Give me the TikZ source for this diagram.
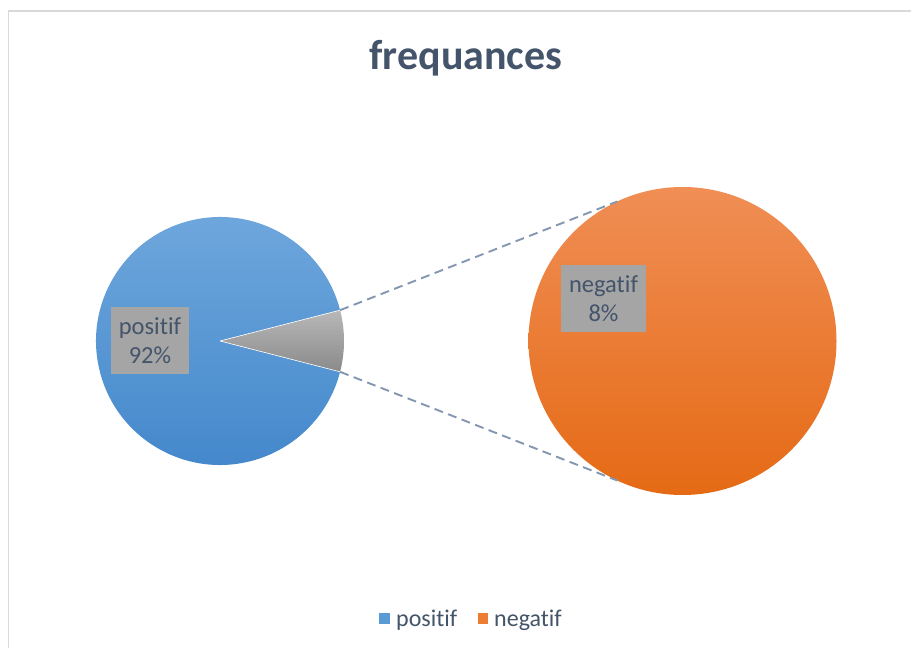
\documentclass[tikz,border=0pt]{standalone}
\usepackage{fontspec}
\setmainfont{Carlito}[Ligatures=NoCommon]
\usetikzlibrary{calc}
\definecolor{txt}{HTML}{44546A}
\definecolor{lbl}{HTML}{A5A5A5}
\definecolor{dashc}{HTML}{8497B0}
\definecolor{frame}{HTML}{D9D9D9}
\definecolor{bluetop}{HTML}{70A8DD}
\definecolor{bluebot}{HTML}{4287CB}
\definecolor{ortop}{HTML}{F08E55}
\definecolor{orbot}{HTML}{E56A15}
\definecolor{greytop}{HTML}{B8B8B8}
\definecolor{greybot}{HTML}{8A8A8A}
\definecolor{legblue}{HTML}{5B9BD5}
\definecolor{legor}{HTML}{ED7D31}
\tikzset{
  datalabel/.style={fill=lbl, text=txt, align=center, inner sep=0pt, font=\fontsize{24.5}{29}\selectfont},
  connector/.style={draw=dashc, line width=1.9pt, dash pattern=on 9pt off 5.5pt},
  legendtext/.style={text=txt, anchor=base west, inner sep=0pt, font=\fontsize{24}{28}\selectfont},
  legendbox/.style={minimum size=10.5pt, inner sep=0pt},
}
\begin{document}
\begin{tikzpicture}[x=1pt,y=1pt]
\useasboundingbox (0,0) rectangle (911,648);
\fill[white] (0,0) rectangle (911,648);
% frame
\draw[frame, line width=1.2pt] (8.5,0) -- (8.5,637) -- (911,637);
% title
\node[text=txt, anchor=base, inner sep=0pt, font=\fontsize{42}{48}\selectfont\bfseries] (title) at (466,578) {frequances};
% left pie
\coordinate (lc) at (220,307);
\shade[top color=bluetop, bottom color=bluebot] (lc) -- ++(14.4:124) arc[start angle=14.4, end angle=345.6, radius=124] -- cycle;
\shade[top color=greytop, bottom color=greybot] (lc) -- ++(-14.4:124) arc[start angle=-14.4, end angle=14.4, radius=124] -- cycle;
\draw[white, line width=0.6pt] (lc) -- ++(14.4:124) (lc) -- ++(-14.4:124);
% right pie
\coordinate (rc) at (682.5,307);
\shade[top color=ortop, bottom color=orbot] (rc) circle[radius=154];
\coordinate (rtop) at ($(rc)+(115:154)$);
\coordinate (rbot) at ($(rc)+(-115:154)$);
\coordinate (wtop) at ($(lc)+(14.4:124)$);
\coordinate (wbot) at ($(lc)+(-14.4:124)$);
\draw[connector] (wtop) -- (rtop);
\draw[connector] (wbot) -- (rbot);
% data labels
\node[datalabel, minimum width=78pt, minimum height=67pt] (lpos) at (150,307.5) {positif\\92\%};
\node[datalabel, minimum width=85pt, minimum height=67pt] (lneg) at (603.5,349.5) {negatif\\8\%};
% legend
\node[legendbox, fill=legblue] (kpos) at (384.5,29.5) {};
\node[legendtext] (tpos) at (396,21) {positif};
\node[legendbox, fill=legor] (kneg) at (483,29.5) {};
\node[legendtext] (tneg) at (494,21) {negatif};
\end{tikzpicture}
\end{document}
